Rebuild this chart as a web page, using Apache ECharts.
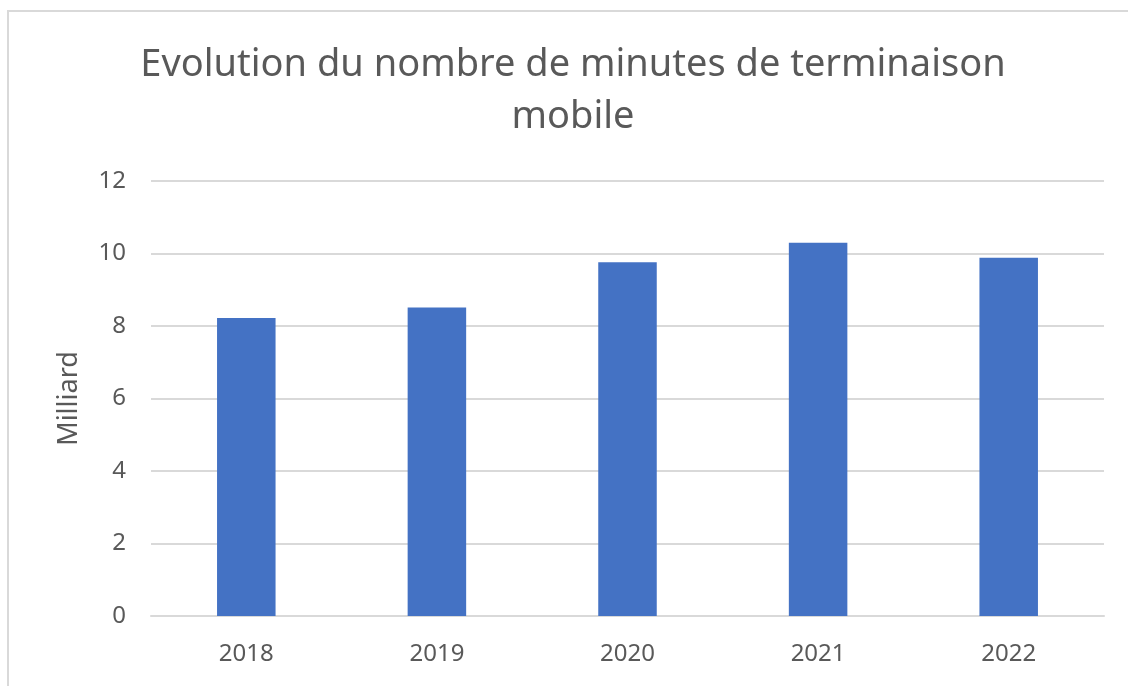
<!DOCTYPE html>
<html>
<head>
<meta charset="utf-8">
<script src="https://cdn.jsdelivr.net/npm/echarts@6/dist/echarts.min.js"></script>
<style>
  html, body { margin: 0; padding: 0; background: #fff; }
  #main { width: 1128px; height: 686px; }
</style>
</head>
<body>
<div id="main"></div>
<script>
var years = ['2018', '2019', '2020', '2021', '2022'];
var minutes = [8.22, 8.51, 9.76, 10.3, 9.88];
var yTicks = [0, 2, 4, 6, 8, 10, 12];

var chartDom = document.getElementById('main');
var myChart = echarts.init(chartDom);
var option;

option = {
  backgroundColor: '#fff',
  textStyle: { fontFamily: 'Noto Sans' },
  title: {
    text: 'Evolution du nombre de minutes de terminaison\nmobile',
    left: 568,
    textAlign: 'center',
    top: 34,
    textStyle: {
      color: '#595959',
      fontSize: 38,
      fontWeight: 'normal',
      lineHeight: 52
    }
  },
  graphic: [{
    type: 'rect',
    shape: { x: 8, y: 11, width: 1140, height: 700 },
    style: { fill: 'none', stroke: '#d9d9d9', lineWidth: 2 },
    silent: true
  }],
  grid: { left: 151, right: 24, top: 181, bottom: 70 },
  xAxis: {
    type: 'category',
    data: years,
    axisLine: { lineStyle: { color: '#d9d9d9', width: 2 } },
    axisTick: { show: false },
    axisLabel: { color: '#595959', fontSize: 24, margin: 26 }
  },
  yAxis: {
    type: 'value',
    min: yTicks[0],
    max: yTicks[yTicks.length - 1],
    interval: 2,
    name: 'Milliard',
    nameLocation: 'middle',
    nameGap: 68,
    nameTextStyle: { color: '#595959', fontSize: 27 },
    axisLine: { show: false },
    axisTick: { show: false },
    axisLabel: { color: '#595959', fontSize: 24, margin: 25 },
    splitLine: { lineStyle: { color: '#d9d9d9', width: 2 } }
  },
  series: [{
    type: 'bar',
    data: minutes,
    barWidth: '30.7%',
    itemStyle: { color: '#4472C4' }
  }]
};

option && myChart.setOption(option);
</script>
</body>
</html>
